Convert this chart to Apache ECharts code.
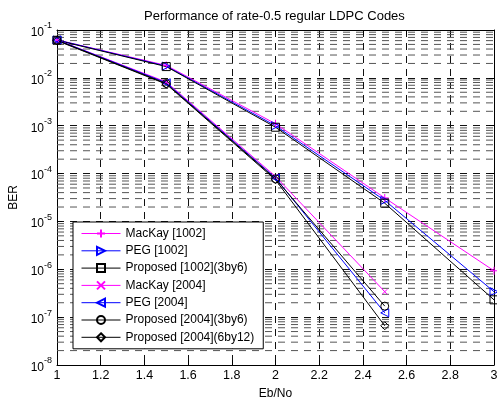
<!DOCTYPE html>
<html><head><meta charset="utf-8">
<script src="https://cdn.jsdelivr.net/npm/echarts@6/dist/echarts.min.js"></script>
<style>html,body{margin:0;padding:0;background:#fff}#c{width:497px;height:400px}</style>
</head><body><div id="c"></div>
<script>
// ---- data ----
const ebno1002 = [1, 1.5, 2, 2.5, 3];
const ebno2004 = [1, 1.5, 2, 2.5];
const mackay1002 = [0.062, 0.0182, 1.1e-3, 3.1e-5, 9.3e-7];
const peg1002 = [0.062, 0.0176, 1.0e-3, 2.75e-5, 3.4e-7];
const prop1002_3by6 = [0.061, 0.0172, 0.93e-3, 2.4e-5, 2.3e-7];
const mackay2004 = [0.062, 0.0082, 8.7e-5, 3.4e-7];
const peg2004 = [0.062, 0.0079, 8.1e-5, 1.23e-7];
const prop2004_3by6 = [0.061, 0.0076, 7.8e-5, 1.7e-7];
const prop2004_6by12 = [0.060, 0.0074, 7.4e-5, 6.6e-8];
const seriesNames = ['MacKay [1002]', 'PEG [1002]', 'Proposed [1002](3by6)', 'MacKay [2004]', 'PEG [2004]', 'Proposed [2004](3by6)', 'Proposed [2004](6by12)'];
const xTickLabels = ['1', '1.2', '1.4', '1.6', '1.8', '2', '2.2', '2.4', '2.6', '2.8', '3'];
const titleText = 'Performance of rate-0.5 regular LDPC Codes';
const xName = 'Eb/No';
const yName = 'BER';
const minorMantissas = [2, 3, 4, 5, 6, 7, 8, 9];
const decadeExps = [-8, -7, -6, -5, -4, -3, -2];
const xRange = [1, 3];

const FONT = '"Liberation Sans", Arial, Helvetica, sans-serif';
const MAG = '#ff00ff', BLU = '#0000ff', BLK = '#000000';

const SYM = {
  plus: 'path://M5,0L5,10M0,5L10,5',
  cross: 'path://M0,0L10,10M10,0L0,10',
  triR: 'path://M0,0L10,5L0,10Z',
  triL: 'path://M10,0L0,5L10,10Z',
  rect: 'rect', circle: 'circle', diamond: 'diamond'
};

function pairs(xs, ys) { return xs.map((x, i) => [x, ys[i]]); }
function mk(name, xs, ys, color, symbol, size) {
  return {
    name, type: 'line', data: pairs(xs, ys), z: 5,
    symbol, symbolSize: size, showSymbol: true,
    lineStyle: { color, width: 1 },
    itemStyle: { color: 'none', borderColor: color, borderWidth: 1 },
    animation: false
  };
}

// minor (2..9 x 10^k) horizontal grid lines, drawn as dashed line series across the x range
const gridSeries = [];
decadeExps.forEach(e => minorMantissas.forEach(m => {
  const v = m * Math.pow(10, e);
  gridSeries.push({
    name: 'g' + m + 'e' + e, type: 'line', data: [[xRange[0], v], [xRange[1], v]],
    symbol: 'none', silent: true, z: 1, animation: false,
    lineStyle: { type: [7, 6], color: '#555', width: 1 },
    emphasis: { disabled: true }, tooltip: { show: false }
  });
}));

const chart = echarts.init(document.getElementById('c'), null, { renderer: 'canvas' });
chart.setOption({
  backgroundColor: '#fff',
  animation: false,
  textStyle: { fontFamily: FONT },
  title: {
    text: titleText, left: 139, top: 5,
    textStyle: { fontFamily: FONT, fontSize: 13, fontWeight: 'normal', color: '#000' }
  },
  grid: { left: 57, right: 3, top: 30, bottom: 35, containLabel: false, outerBoundsMode: 'none' },
  legend: {
    data: seriesNames, orient: 'vertical', left: 73, top: 222,
    backgroundColor: '#fff', borderColor: '#000', borderWidth: 1, borderRadius: 0,
    padding: [5, 9, 5, 8], itemWidth: 39, itemHeight: 10, itemGap: 4.3,
    lineStyle: { width: 1 },
    textStyle: { fontFamily: FONT, fontSize: 12, color: '#000' },
    selectedMode: false, z: 10
  },
  xAxis: [{
    type: 'value', min: xRange[0], max: xRange[1], interval: 0.2,
    name: xName, nameLocation: 'middle', nameGap: 23,
    nameTextStyle: { fontFamily: FONT, fontSize: 12, color: '#000' },
    axisLine: { show: true, lineStyle: { color: '#000', width: 1 } },
    axisTick: { show: true, inside: true, length: 5, lineStyle: { color: '#000' } },
    axisLabel: { fontFamily: FONT, fontSize: 12.5, color: '#000', margin: 4,
      formatter: (v) => { const i = Math.round((v - 1) / 0.2); return xTickLabels[i] !== undefined ? xTickLabels[i] : ''; } },
    splitLine: { show: true, lineStyle: { type: [7, 6], color: '#111', width: 1 } }
  }, {
    type: 'value', min: xRange[0], max: xRange[1], interval: 0.2, position: 'top',
    axisLine: { show: true, onZero: false, lineStyle: { color: '#000', width: 1 } },
    axisTick: { show: true, inside: true, length: 5, lineStyle: { color: '#000' } },
    axisLabel: { show: false }, splitLine: { show: false }
  }],
  yAxis: [{
    type: 'log', logBase: 10, min: 1e-8, max: 1e-1, interval: 1,
    name: yName, nameLocation: 'middle', nameGap: 31,
    nameTextStyle: { fontFamily: FONT, fontSize: 12, color: '#000' },
    axisLine: { show: true, lineStyle: { color: '#000', width: 1 } },
    axisTick: { show: true, inside: true, length: 5, lineStyle: { color: '#000' } },
    axisLabel: {
      margin: 5, color: '#000',
      formatter: (v) => '{b|10}{s|' + Math.round(Math.log10(v)) + '}',
      rich: {
        b: { fontFamily: FONT, fontSize: 12, color: '#000', lineHeight: 17, verticalAlign: 'bottom' },
        s: { fontFamily: FONT, fontSize: 9, color: '#000', verticalAlign: 'top', lineHeight: 17 }
      }
    },
    splitLine: { show: true, lineStyle: { type: [7, 6], color: '#111', width: 1 } }
  }, {
    type: 'log', logBase: 10, min: 1e-8, max: 1e-1, interval: 1, position: 'right',
    axisLine: { show: true, lineStyle: { color: '#000', width: 1 } },
    axisTick: { show: true, inside: true, length: 5, lineStyle: { color: '#000' } },
    axisLabel: { show: false }, splitLine: { show: false }
  }],
  series: gridSeries.concat([
    mk(seriesNames[0], ebno1002, mackay1002, MAG, SYM.plus, 8),
    mk(seriesNames[1], ebno1002, peg1002, BLU, SYM.triR, 8),
    mk(seriesNames[2], ebno1002, prop1002_3by6, BLK, SYM.rect, 8),
    mk(seriesNames[3], ebno2004, mackay2004, MAG, SYM.cross, 5),
    mk(seriesNames[4], ebno2004, peg2004, BLU, SYM.triL, 8),
    mk(seriesNames[5], ebno2004, prop2004_3by6, BLK, SYM.circle, 8),
    mk(seriesNames[6], ebno2004, prop2004_6by12, BLK, SYM.diamond, 8)
  ])
});
</script></body></html>
